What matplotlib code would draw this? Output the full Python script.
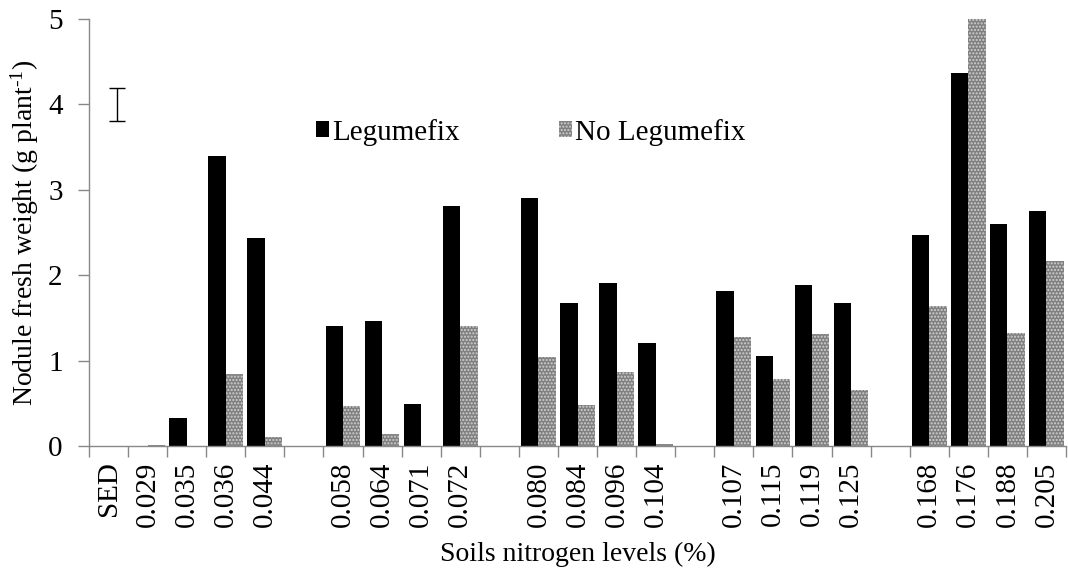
import numpy as np
import matplotlib
matplotlib.use('Agg')
import matplotlib.pyplot as plt

plt.rcParams['font.family'] = ['Liberation Serif', 'DejaVu Serif']
plt.rcParams['mathtext.fontset'] = 'custom'
plt.rcParams['mathtext.rm'] = 'Liberation Serif'
plt.rcParams['mathtext.default'] = 'regular'

# categories ('' = empty spacer slot between groups)
labels = ['SED', '0.029', '0.035', '0.036', '0.044', '',
          '0.058', '0.064', '0.071', '0.072', '',
          '0.080', '0.084', '0.096', '0.104', '',
          '0.107', '0.115', '0.119', '0.125', '',
          '0.168', '0.176', '0.188', '0.205']

legumefix = [np.nan, 0.0, 0.33, 3.39, 2.44, np.nan,
             1.41, 1.46, 0.49, 2.81, np.nan,
             2.90, 1.68, 1.91, 1.21, np.nan,
             1.81, 1.05, 1.88, 1.67, np.nan,
             2.47, 4.37, 2.60, 2.75]

no_legumefix = [np.nan, 0.01, 0.0, 0.84, 0.11, np.nan,
                0.47, 0.14, 0.0, 1.40, np.nan,
                1.04, 0.48, 0.87, 0.02, np.nan,
                1.28, 0.78, 1.31, 0.65, np.nan,
                1.64, 5.00, 1.32, 2.17]

sed_value = 4.0
sed_err = 0.19

x = np.arange(len(labels))
w = 0.445
fs = 21

fig = plt.figure(figsize=(10.68, 5.71), dpi=100)
ax = fig.add_axes([89 / 1068, (571 - 446) / 571, 977 / 1068, 427 / 571])

ax.bar(x - w / 2, legumefix, w, color='black', label='Legumefix')
ax.bar(x + w / 2, no_legumefix, w, color='#808080', edgecolor='#d0d0d0',
       linewidth=0, hatch='.....', label='No Legumefix')

# SED error bar
ax.errorbar([x[0] + w / 2], [sed_value], yerr=[sed_err], fmt='none',
            ecolor='black', elinewidth=1, capsize=6, capthick=1)

ax.set_xlim(-0.5, len(labels) - 0.5)
ax.set_ylim(0, 5)
ax.set_yticks([0, 1, 2, 3, 4, 5])

ax.set_xticks(x)
ax.set_xticklabels(labels, rotation=90)
ax.tick_params(axis='x', which='major', length=0, pad=11)
ax.set_xticks(np.arange(-0.5, len(labels), 1), minor=True)
ax.tick_params(axis='x', which='minor', length=8, color='#888888', width=1)
ax.tick_params(axis='y', length=8, color='#888888', width=1, pad=11)
ax.tick_params(labelsize=fs)

for s in ['top', 'right']:
    ax.spines[s].set_visible(False)
for s in ['left', 'bottom']:
    ax.spines[s].set_color('#888888')
    ax.spines[s].set_linewidth(1)

ax.set_xlabel('Soils nitrogen levels (%)', fontsize=20, labelpad=11)
ax.set_ylabel('Nodule fresh weight (g plant$^{\\text{-1}}$)', fontsize=20, labelpad=5)

ax.legend(loc='center', bbox_to_anchor=(0.452, 0.735), ncol=2, frameon=False,
          fontsize=fs, handlelength=0.45, handleheight=0.45, handletextpad=0.1,
          columnspacing=3.4)

fig.savefig('out.png', dpi=100)
